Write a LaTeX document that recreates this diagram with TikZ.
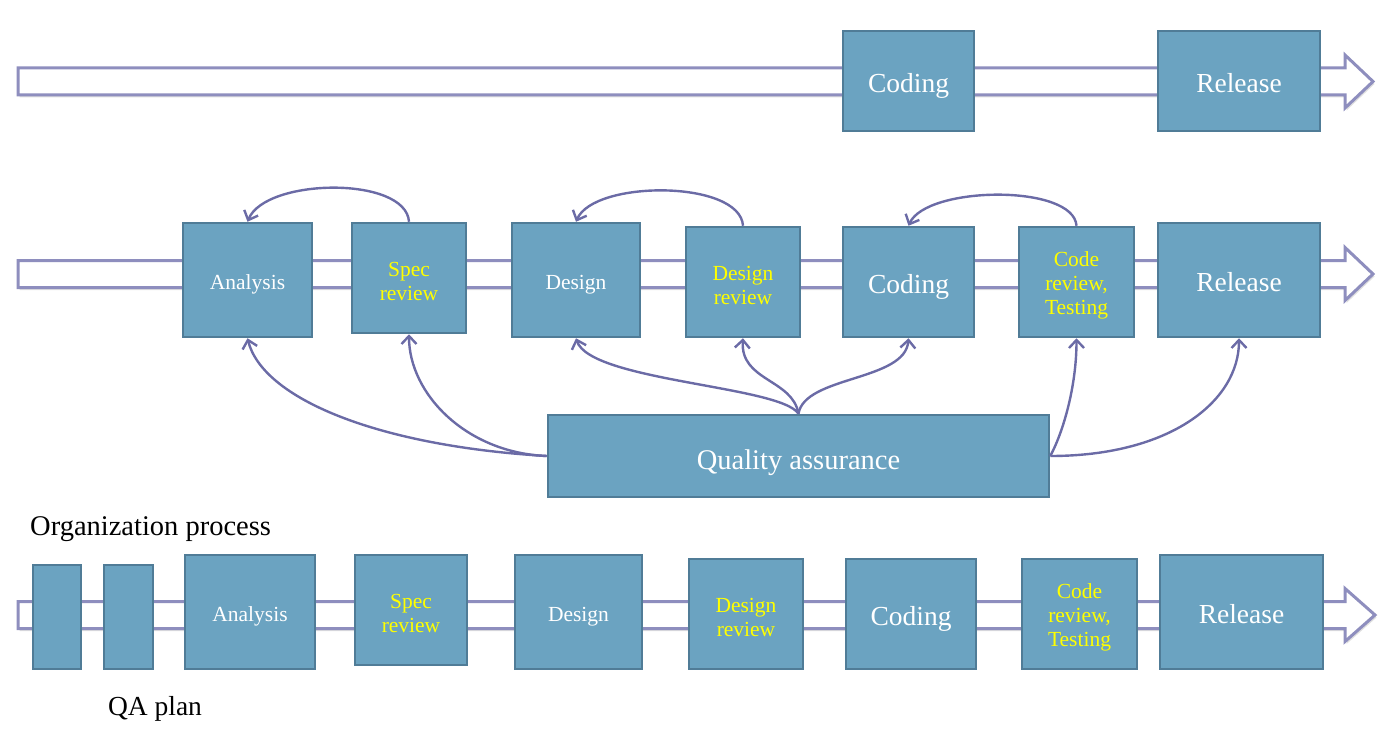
\documentclass[tikz,border=0pt]{standalone}
\usepackage{fontspec}
\setmainfont{Liberation Serif}
\usetikzlibrary{arrows.meta,calc,shadows}
\definecolor{boxfill}{HTML}{6BA3C1}
\definecolor{boxline}{HTML}{507C97}
\definecolor{arrcol}{HTML}{6B6BA6}
\definecolor{shaftcol}{HTML}{8E8EBE}
\definecolor{ytext}{HTML}{FFFF00}
\begin{document}
\begin{tikzpicture}[x=1pt,y=-1pt,
 box/.style={draw=boxline, fill=boxfill, line width=2.5pt, inner sep=0pt},
 big/.style={font=\fontsize{27.5}{29}\selectfont, text=white, align=center, inner sep=0pt},
 small/.style={font=\fontsize{21.5}{24}\selectfont, text=white, align=center, inner sep=0pt},
 yel/.style={text=ytext},
 shaft/.style={draw=shaftcol, fill=white, line width=3pt, line join=miter,
   drop shadow={shadow xshift=1.5pt,shadow yshift=-2.5pt,opacity=0.25}},
 arr/.style={draw=arrcol, line width=2.4pt, -{Straight Barb[length=8pt,width=15pt,line width=2.4pt]}},
 plaintext/.style={font=\fontsize{27.5}{29}\selectfont, inner sep=0pt, text=black}]
\useasboundingbox (0,0) rectangle (1396,730);

% shafts
\foreach \cy/\tip in {81.5/1373, 274/1373, 615/1375}{
  \path[shaft] (18,\cy-13.5) -- (1345,\cy-13.5) -- (1345,\cy-26.5) -- (\tip,\cy)
     -- (1345,\cy+26.5) -- (1345,\cy+13.5) -- (18,\cy+13.5) -- cycle;
}

% row 1
\node[box,minimum width=131pt,minimum height=100pt,label={[big,yshift=-5pt]center:Coding}] (cod1) at (908.5,81) {};
\node[box,minimum width=162pt,minimum height=100pt,label={[big,yshift=-2pt]center:Release}] (rel1) at (1239,81) {};

% row 2
\node[box,minimum width=129pt,minimum height=114pt,label={[small,yshift=-4pt]center:Analysis}] (ana2) at (247.5,280) {};
\node[box,minimum width=114pt,minimum height=110pt,label={[small,yel,yshift=-3pt]center:{Spec\\review}}] (spec2) at (409,278) {};
\node[box,minimum width=128pt,minimum height=114pt,label={[small,yshift=-5pt]center:Design}] (des2) at (576,280) {};
\node[box,minimum width=114pt,minimum height=110pt,label={[small,yel,yshift=-3pt]center:{Design\\review}}] (desr2) at (743,282) {};
\node[box,minimum width=131pt,minimum height=110pt,label={[big,yshift=-5pt]center:Coding}] (cod2) at (908.5,282) {};
\node[box,minimum width=115pt,minimum height=110pt,label={[small,yel,yshift=-3pt]center:{Code\\review,\\Testing}}] (codr2) at (1076.5,282) {};
\node[box,minimum width=162pt,minimum height=114pt,label={[big,yshift=-2pt]center:Release}] (rel2) at (1239,280) {};
\node[box,minimum width=501pt,minimum height=82pt,label={[big,font=\fontsize{28.5}{30}\selectfont,yshift=-7pt]center:Quality assurance}] (qa) at (798.5,456) {};

% row 3
\node[box,minimum width=48pt,minimum height=104pt] (op3) at (57,617) {};
\node[box,minimum width=49pt,minimum height=104pt] (qap3) at (128.5,617) {};
\node[box,minimum width=130pt,minimum height=114pt,label={[small,yshift=-4pt]center:Analysis}] (ana3) at (250,612) {};
\node[box,minimum width=112pt,minimum height=110pt,label={[small,yel,yshift=-3pt]center:{Spec\\review}}] (spec3) at (411,610) {};
\node[box,minimum width=127pt,minimum height=114pt,label={[small,yshift=-5pt]center:Design}] (des3) at (578.5,612) {};
\node[box,minimum width=114pt,minimum height=110pt,label={[small,yel,yshift=-3pt]center:{Design\\review}}] (desr3) at (746,614) {};
\node[box,minimum width=130pt,minimum height=110pt,label={[big,yshift=-5pt]center:Coding}] (cod3) at (911,614) {};
\node[box,minimum width=115pt,minimum height=110pt,label={[small,yel,yshift=-3pt]center:{Code\\review,\\Testing}}] (codr3) at (1079.5,614) {};
\node[box,minimum width=163pt,minimum height=114pt,label={[big,yshift=-2pt]center:Release}] (rel3) at (1241.5,612) {};

% labels
\node[plaintext,font=\fontsize{28.5}{30}\selectfont,anchor=west] (orgp) at (30,529) {Organization process};
\node[plaintext] (qaplan) at (155,709) {QA plan};

% back arcs
\draw[arr] (spec2.north) .. controls ($(spec2.north)+(-3,-46)$) and ($(ana2.north)+(18,-44)$) .. (ana2.north);
\draw[arr] (desr2.north) .. controls ($(desr2.north)+(-3,-46)$) and ($(des2.north)+(18,-42)$) .. (des2.north);
\draw[arr] (codr2.north) .. controls ($(codr2.north)+(-3,-42)$) and ($(cod2.north)+(18,-40)$) .. (cod2.north);

% QA arrows
\draw[arr] (qa.west) .. controls ($(qa.west)+(-170,-10)$) and ($(ana2.south)+(15,60)$) .. (ana2.south);
\draw[arr] (qa.west) .. controls ($(qa.west)+(-80,-3)$) and ($(spec2.south)+(0,60)$) .. (spec2.south);
\draw[arr] (qa.north) .. controls ($(qa.north)+(-18,-28)$) and ($(des2.south)+(14,43)$) .. (des2.south);
\draw[arr] (qa.north) .. controls ($(qa.north)+(-6,-35)$) and ($(desr2.south)+(-3,43)$) .. (desr2.south);
\draw[arr] (qa.north) .. controls ($(qa.north)+(6,-38)$) and ($(cod2.south)+(-3,43)$) .. (cod2.south);
\draw[arr] (qa.east) .. controls ($(qa.east)+(12,-22)$) and ($(codr2.south)+(0,50)$) .. (codr2.south);
\draw[arr] (qa.east) .. controls ($(qa.east)+(120,0)$) and ($(rel2.south)+(0,63)$) .. (rel2.south);
\end{tikzpicture}
\end{document}
